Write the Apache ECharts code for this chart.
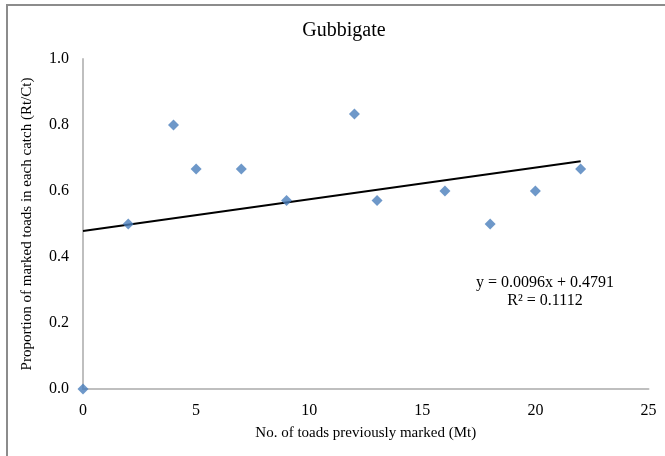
<!DOCTYPE html>
<html>
<head>
<meta charset="utf-8">
<script src="https://cdn.jsdelivr.net/npm/echarts@6/dist/echarts.min.js"></script>
<style>
  html, body { margin: 0; padding: 0; background: #fff; }
  #chart { width: 665px; height: 456px; }
</style>
</head>
<body>
<div id="chart"></div>
<script>
// values
const markedBefore = [0, 2, 4, 5, 7, 9, 12, 13, 16, 18, 20, 22]
const proportionMarked = [0, 0.5, 0.8, 0.667, 0.667, 0.571, 0.833, 0.571, 0.6, 0.5, 0.6, 0.667]
const trendX = [0, 22]
const trendY = [0.4791, 0.6903]
const equationLines = ['y = 0.0096x + 0.4791', 'R² = 0.1112']
const xTicks = [0, 5, 10, 15, 20, 25]
const yTicks = [0, 0.2, 0.4, 0.6, 0.8, 1.0]

const serif = '"Liberation Serif", "Times New Roman", serif'
const chart = echarts.init(document.getElementById('chart'))

chart.setOption({
  backgroundColor: '#fff',
  animation: false,
  textStyle: { fontFamily: serif, color: '#000' },
  title: {
    text: 'Gubbigate',
    left: 339,
    top: 16,
    textAlign: 'center',
    textStyle: { fontFamily: serif, fontSize: 20, fontWeight: 'normal', color: '#000' },
  },
  grid: { left: 83, right: 16.5, top: 59, bottom: 67 },
  xAxis: {
    type: 'value',
    min: xTicks[0],
    max: xTicks[xTicks.length - 1],
    interval: 5,
    name: 'No. of toads previously marked (Mt)',
    nameLocation: 'middle',
    nameGap: 37,
    nameTextStyle: { fontFamily: serif, fontSize: 15, color: '#000' },
    axisLine: { onZero: false, lineStyle: { color: '#bfbfbf', width: 2 } },
    axisTick: { show: false },
    splitLine: { show: false },
    axisLabel: { fontFamily: serif, fontSize: 16, color: '#000', margin: 14 },
  },
  yAxis: {
    type: 'value',
    min: yTicks[0],
    max: yTicks[yTicks.length - 1],
    interval: 0.2,
    name: 'Proportion of marked toads in each catch (Rt/Ct)',
    nameLocation: 'middle',
    nameGap: 48,
    nameTextStyle: { fontFamily: serif, fontSize: 15, color: '#000' },
    axisLine: { show: true, onZero: false, lineStyle: { color: '#bfbfbf', width: 2 } },
    axisTick: { show: false },
    splitLine: { show: false },
    axisLabel: {
      fontFamily: serif,
      fontSize: 16,
      color: '#000',
      margin: 14,
      formatter: (v) => v.toFixed(1),
    },
  },
  graphic: [
    {
      type: 'rect',
      shape: { x: 7, y: 5, width: 720, height: 520 },
      style: { fill: 'none', stroke: '#8c8c8c', lineWidth: 2 },
      silent: true,
    },
    {
      type: 'text',
      x: 545,
      y: 292,
      style: {
        text: equationLines.join('\n'),
        font: '16px ' + serif,
        fill: '#000',
        align: 'center',
        verticalAlign: 'middle',
        lineHeight: 18,
      },
    },
  ],
  series: [
    {
      name: 'Linear trend',
      type: 'line',
      data: trendX.map((x, i) => [x, trendY[i]]),
      symbol: 'none',
      lineStyle: { color: '#000', width: 2 },
      z: 2,
    },
    {
      name: 'Proportion',
      type: 'scatter',
      data: markedBefore.map((x, i) => [x, proportionMarked[i]]),
      symbol: 'diamond',
      symbolSize: 11,
      itemStyle: { color: '#4a7ebb' },
      z: 3,
    },
  ],
})
</script>
</body>
</html>
